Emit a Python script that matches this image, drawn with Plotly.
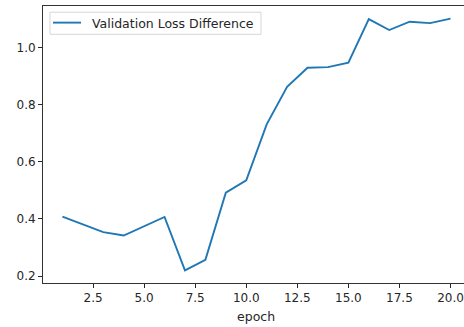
import plotly.graph_objects as go

# Validation loss difference per epoch
epochs = list(range(1, 21))
loss_diff = [0.408, 0.381, 0.354, 0.342, 0.374, 0.407, 0.220, 0.257, 0.492, 0.535,
             0.731, 0.862, 0.929, 0.931, 0.947, 1.099, 1.061, 1.090, 1.085, 1.101]

x_ticks = [2.5, 5.0, 7.5, 10.0, 12.5, 15.0, 17.5, 20.0]
y_ticks = [0.2, 0.4, 0.6, 0.8, 1.0]

SERIES_NAME = "Validation Loss Difference"
LINE_COLOR = "#1f77b4"
FONT = "DejaVu Sans"
INK = "#262626"
FS = 12.5
TICK_FS = 12

fig = go.Figure()
fig.add_trace(go.Scatter(
    x=epochs, y=loss_diff, mode="lines",
    name=SERIES_NAME,
    line=dict(color=LINE_COLOR, width=1.9),
    showlegend=False,
))

# Compact legend box drawn in paper coordinates
fig.add_shape(type="rect", xref="paper", yref="paper",
              x0=0.0166, x1=0.5178, y0=0.8978, y1=0.9776,
              line=dict(color="#d6d6d6", width=1), fillcolor="rgba(255,255,255,0.8)")
fig.add_shape(type="line", xref="paper", yref="paper",
              x0=0.0238, x1=0.0903, y0=0.940, y1=0.940,
              line=dict(color=LINE_COLOR, width=1.9))

fig.update_layout(
    width=464, height=327,
    margin=dict(l=43, r=0, t=6, b=44),
    paper_bgcolor="white", plot_bgcolor="white",
    font=dict(family=FONT, size=FS, color=INK),
    xaxis=dict(
        range=[0.05, 20.66],
        tickvals=x_ticks, tickformat=".1f",
        tickfont=dict(size=TICK_FS), ticklabeloverflow="allow",
        ticks="outside", ticklen=4, tickwidth=1, tickcolor=INK,
        showline=True, mirror=True, linecolor="#333333", linewidth=1,
        showgrid=False, zeroline=False,
    ),
    yaxis=dict(
        range=[0.176, 1.145],
        tickvals=y_ticks, tickformat=".1f",
        tickfont=dict(size=TICK_FS),
        ticks="outside", ticklen=4, tickwidth=1, tickcolor=INK,
        showline=True, linecolor="#333333", linewidth=1,
        showgrid=False, zeroline=False,
    ),
    annotations=[
        dict(text=SERIES_NAME, x=0.1116, xref="paper", y=0.9386, yref="paper",
             xanchor="left", yanchor="middle", showarrow=False,
             font=dict(family=FONT, size=FS, color=INK)),
        dict(text="epoch", x=10.5, xref="x", y=-0.1217, yref="paper",
             xanchor="center", yanchor="middle", showarrow=False,
             font=dict(family=FONT, size=FS, color=INK)),
    ],
)

fig.write_html("out.html")
